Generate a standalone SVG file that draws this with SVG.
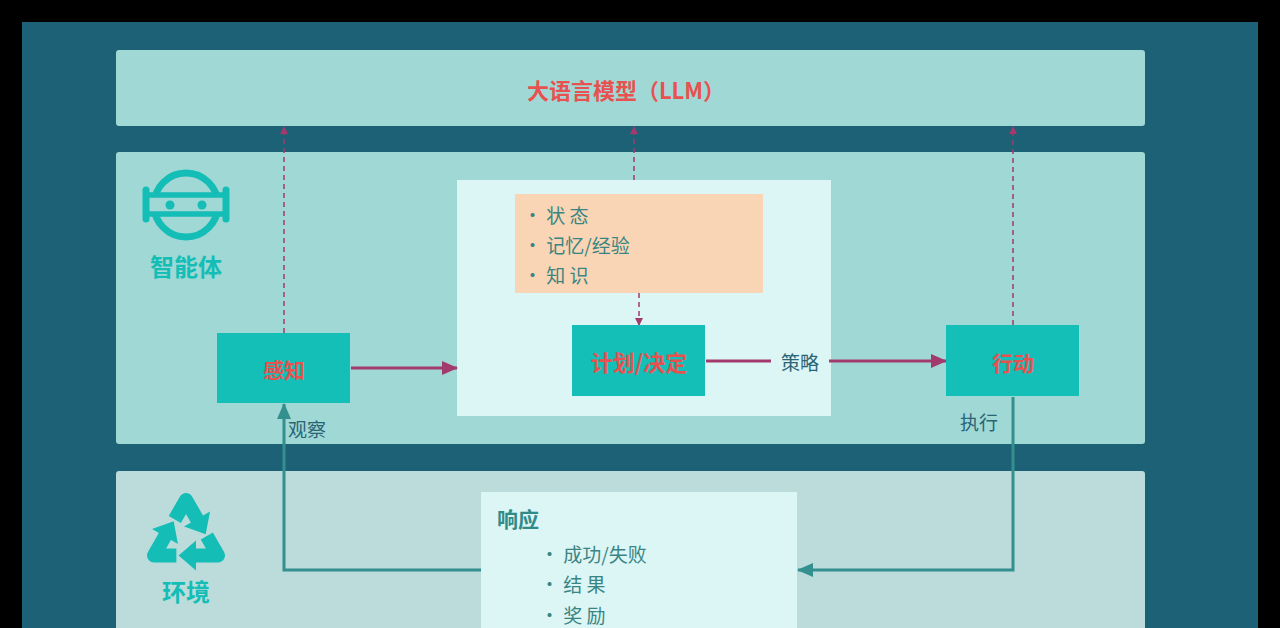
<svg xmlns="http://www.w3.org/2000/svg" width="1280" height="628" viewBox="0 0 1280 628">
<style>
.panel{fill:#a0d8d5}
.node rect{fill:#14bfb8}
.ntext{font-family:"Noto Sans CJK SC","Liberation Sans",sans-serif;font-weight:bold;fill:#e8514f;text-anchor:middle;dominant-baseline:central}
.lbl{font-family:"Noto Sans CJK SC","Liberation Sans",sans-serif;fill:#2a6575;font-size:19px;dominant-baseline:central}
.bul{font-family:"Noto Sans CJK SC","Liberation Sans",sans-serif;fill:#3a8582;font-size:19px;dominant-baseline:central}
.dash{stroke:#a33a6e;stroke-width:1.5;stroke-dasharray:5 4;fill:none}
.mag{stroke:#a33a6e;stroke-width:3;fill:none}
.teal{stroke:#33908e;stroke-width:3;fill:none}
.icon{fill:none;stroke:#14bdb5}
.itext{font-family:"Noto Sans CJK SC","Liberation Sans",sans-serif;font-weight:bold;fill:#14bdb5;font-size:24px;text-anchor:middle;dominant-baseline:central}
</style>
<defs>
<marker id="am" markerWidth="8" markerHeight="8" refX="7" refY="4" orient="auto" markerUnits="userSpaceOnUse" viewBox="0 0 8 8"><path d="M0,0 L8,4 L0,8 Z" fill="#a33a6e"/></marker>
<marker id="amb" markerWidth="16" markerHeight="14" refX="15" refY="7" orient="auto" markerUnits="userSpaceOnUse" viewBox="0 0 16 14"><path d="M0,0 L16,7 L0,14 Z" fill="#a33a6e"/></marker>
<marker id="at" markerWidth="16" markerHeight="14" refX="15" refY="7" orient="auto" markerUnits="userSpaceOnUse" viewBox="0 0 16 14"><path d="M0,0 L16,7 L0,14 Z" fill="#33908e"/></marker>
<g id="piece">
<polyline points="20.8,-0.9 32,18.5 9.6,18.5" fill="none" stroke="#14bdb5" stroke-width="14" stroke-linejoin="round"/>
<polygon points="10,3.5 10,33.5 -7.4,18.5" fill="#14bdb5"/>
</g>
</defs>
<rect x="0" y="0" width="1280" height="628" fill="#000"/>
<rect x="22" y="22" width="1236" height="606" fill="#1c6175"/>

<g id="llm">
<rect class="panel" x="116" y="50" width="1029" height="76" rx="3"/>
<text x="626" y="89" font-family="Noto Sans CJK SC,Liberation Sans,sans-serif" font-weight="bold" font-size="22" fill="#e8514f" text-anchor="middle" dominant-baseline="central">大语言模型（LLM）</text>
</g>

<g id="agent">
<rect class="panel" x="116" y="152" width="1029" height="292" rx="3"/>
<g id="agent-icon">
<circle class="icon" cx="186" cy="205" r="32" stroke-width="7"/>
<rect x="146" y="194" width="80" height="21" fill="#a0d8d5"/>
<line class="icon" x1="148" y1="195" x2="224" y2="195" stroke-width="5.5"/>
<line class="icon" x1="148" y1="214" x2="224" y2="214" stroke-width="5.5"/>
<line class="icon" x1="146" y1="190" x2="146" y2="219" stroke-width="7" stroke-linecap="round"/>
<line class="icon" x1="226" y1="190" x2="226" y2="219" stroke-width="7" stroke-linecap="round"/>
<circle cx="170" cy="205" r="4.5" fill="#14bdb5"/>
<circle cx="202" cy="205" r="4.5" fill="#14bdb5"/>
<text class="itext" x="186" y="265">智能体</text>
</g>
</g>

<g id="env">
<rect x="116" y="471" width="1029" height="170" rx="3" fill="#bcdcdc"/>
<g id="env-icon" transform="translate(186,537)">
<use href="#piece"/>
<use href="#piece" transform="rotate(120)"/>
<use href="#piece" transform="rotate(240)"/>
</g>
<text class="itext" x="186" y="590">环境</text>
</g>

<g id="core">
<rect x="457" y="180" width="374" height="236" fill="#dcf5f5"/>
</g>

<g id="memory">
<rect x="515" y="194" width="248" height="99" fill="#f9d5b5"/>
<text class="bul" x="523" y="214">· 状 态</text>
<text class="bul" x="523" y="244">· 记忆/经验</text>
<text class="bul" x="523" y="274">· 知 识</text>
</g>

<g id="response">
<rect x="481" y="492" width="316" height="140" fill="#dcf5f5"/>
<text x="497" y="518" font-family="Noto Sans CJK SC,Liberation Sans,sans-serif" font-weight="bold" font-size="21" fill="#2f8a88" dominant-baseline="central">响应</text>
<text class="bul" x="540" y="553">· 成功/失败</text>
<text class="bul" x="540" y="583">· 结 果</text>
<text class="bul" x="540" y="614">· 奖 励</text>
</g>

<g id="connectors">
<line class="dash" x1="284" y1="333" x2="284" y2="127" marker-end="url(#am)"/>
<line class="dash" x1="634" y1="180" x2="634" y2="127" marker-end="url(#am)"/>
<line class="dash" x1="1013" y1="325" x2="1013" y2="127" marker-end="url(#am)"/>
<line class="dash" x1="639" y1="293" x2="639" y2="325" marker-end="url(#am)"/>
<line class="mag" x1="351" y1="368" x2="457" y2="368" marker-end="url(#amb)"/>
<line class="mag" x1="706" y1="361" x2="771" y2="361"/>
<line class="mag" x1="829" y1="361" x2="946" y2="361" marker-end="url(#amb)"/>
<polyline class="teal" points="481,570 284,570 284,404" marker-end="url(#at)"/>
<polyline class="teal" points="1013,397 1013,570 798,570" marker-end="url(#at)"/>
</g>

<g id="perceive" class="node">
<rect x="217" y="333" width="133" height="70"/>
<text class="ntext" x="284" y="369" font-size="21">感知</text>
</g>
<g id="plan" class="node">
<rect x="572" y="325" width="133" height="71"/>
<text class="ntext" x="639" y="361" font-size="22">计划/决定</text>
</g>
<g id="act" class="node">
<rect x="946" y="325" width="133" height="71"/>
<text class="ntext" x="1013" y="362" font-size="21">行动</text>
</g>

<g id="labels">
<text class="lbl" x="800" y="361" text-anchor="middle">策略</text>
<text class="lbl" x="288" y="428">观察</text>
<text class="lbl" x="960" y="421">执行</text>
</g>
</svg>
